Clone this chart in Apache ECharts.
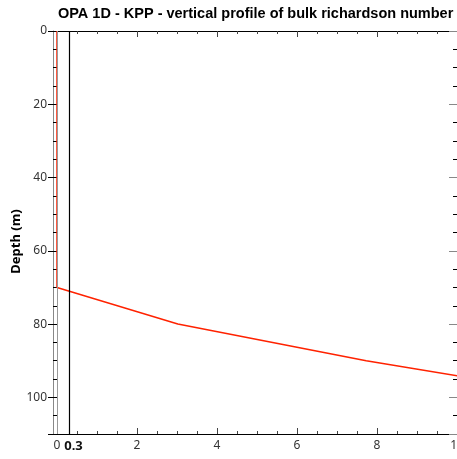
<!DOCTYPE html>
<html>
<head>
<meta charset="utf-8">
<script src="https://cdn.jsdelivr.net/npm/echarts@6/dist/echarts.min.js"></script>
<style>
html, body { margin: 0; padding: 0; background: #fff; }
#chart { width: 457px; height: 459px; }
</style>
</head>
<body>
<div id="chart"></div>
<script>
// profile
var depths = [0, 10, 20, 30, 40, 50, 60, 70, 80, 90, 100];
var richardson = [0, 0, 0, 0, 0, 0, 0, 0, 3.02, 7.73, 13.3];
var criticalRi = 0.3;

var xMajorTicks = [0, 2, 4, 6, 8, 10];
var xMinorTicks = [0, 0.5, 1, 1.5, 2, 2.5, 3, 3.5, 4, 4.5, 5, 5.5, 6, 6.5, 7, 7.5, 8, 8.5, 9, 9.5, 10];
var xLabels = [0, 0.3, 2, 4, 6, 8, 10];
var yLabels = [0, 20, 40, 60, 80, 100];

var font = 'Noto Sans';

var chart = echarts.init(document.getElementById('chart'));

function xAxisDef(pos, ticks, len, showLabel, showLine) {
    return {
        type: 'value',
        position: pos,
        min: -0.1,
        max: 10,
        axisLine: {show: showLine, onZero: false, lineStyle: {color: '#000', width: 1}},
        axisTick: {show: true, inside: true, length: len, customValues: ticks,
            lineStyle: {color: '#444'}},
        axisLabel: showLabel ? {
            show: true,
            customValues: xLabels,
            margin: 6,
            color: '#333',
            fontFamily: font,
            fontSize: 12,
            formatter: function (v) {
                if (Math.abs(v - criticalRi) < 1e-6) return '{b|0.3}';
                return String(v);
            },
            rich: {b: {fontWeight: 'bold', fontSize: 13, color: '#111', fontFamily: font, padding: [0, 0, 0, 9]}}
        } : {show: false},
        splitLine: {show: false}
    };
}

function yAxisDef(pos, interval, len, inside, color, showLabel, showLine) {
    return {
        type: 'value',
        position: pos,
        inverse: true,
        min: 0,
        max: 110,
        interval: interval,
        name: showLabel ? 'Depth (m)' : '',
        nameLocation: 'middle',
        nameGap: 30,
        nameMoveOverlap: false,
        nameTextStyle: {fontWeight: 'bold', fontSize: 13, color: '#000', fontFamily: font, padding: [0, 18, 0, 0]},
        axisLine: {show: showLine, onZero: false, lineStyle: {color: '#888', width: 1}},
        axisTick: {show: true, inside: inside, length: len, lineStyle: {color: color}},
        axisLabel: {show: showLabel, customValues: yLabels, margin: 6, color: '#333', fontFamily: font, fontSize: 12},
        splitLine: {show: false}
    };
}

var data = depths.map(function (d, i) {
    return [richardson[i], d];
});

chart.setOption({
    animation: false,
    backgroundColor: '#fff',
    title: {
        text: 'OPA 1D - KPP - vertical profile of bulk richardson number',
        left: 58,
        top: 6,
        padding: 0,
        textStyle: {fontSize: 14.5, fontWeight: 'bold', color: '#000', fontFamily: 'Liberation Sans'}
    },
    grid: {left: 53, right: 0, top: 31, bottom: 25, containLabel: false, outerBoundsMode: 'none'},
    xAxis: [
        xAxisDef('bottom', xMajorTicks, 6, true, true),
        xAxisDef('bottom', xMinorTicks, 3, false, false),
        xAxisDef('top', xMajorTicks, 6, false, true),
        xAxisDef('top', xMinorTicks, 3, false, false)
    ],
    yAxis: [
        yAxisDef('left', 20, 5, false, '#000', true, true),
        yAxisDef('left', 5, 4, true, '#000', false, false),
        yAxisDef('right', 5, 4, true, '#000', false, false),
        yAxisDef('right', 20, 8, true, '#888', false, false)
    ],
    series: [{
        type: 'line',
        xAxisIndex: 0,
        yAxisIndex: 0,
        data: data,
        showSymbol: false,
        lineStyle: {color: '#ff2200', width: 1.5},
        z: 3,
        markLine: {
            silent: true,
            symbol: 'none',
            label: {show: false},
            data: [
                {xAxis: 0, lineStyle: {color: '#999', width: 1, type: 'solid'}},
                {xAxis: criticalRi, lineStyle: {color: '#000', width: 1.2, type: 'solid'}}
            ]
        }
    }]
});
</script>
</body>
</html>
